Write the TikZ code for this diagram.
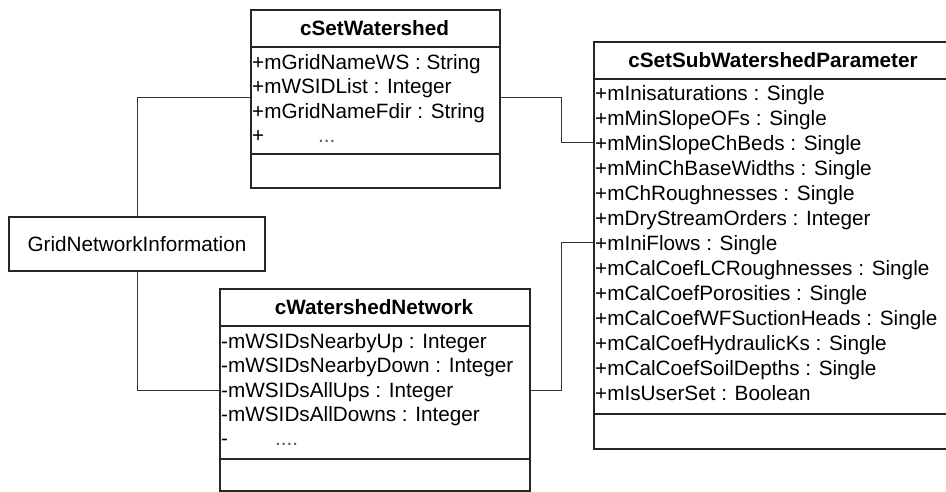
\documentclass[tikz,border=0pt]{standalone}
\usepackage{fontspec}
\setmainfont{Liberation Sans}
\newcommand\umlfs{\fontsize{20.8}{25}\selectfont}
\tikzset{
  box/.style={draw=black!85, line width=1.6bp, rectangle, inner sep=0pt, anchor=north west},
  sepline/.style={draw=black!85, line width=1.6bp},
  attr/.style={anchor=base west, inner sep=0pt, font=\umlfs},
  ctitle/.style={anchor=base, inner sep=0pt, font=\umlfs\bfseries},
  conn/.style={draw=black!80, line width=1bp},
}
\begin{document}
\begin{tikzpicture}[x=1bp, y=-1bp]
\useasboundingbox (0,0) rectangle (946,492);
\clip (0,0) rectangle (946,492);
\fill[white] (0,0) rectangle (946,492);

% ---- cSetWatershed
\node[box, minimum width=249bp, minimum height=178bp] (ws) at (250,9) {};
\draw[sepline] (ws.west |- 0,47) -- (ws.east |- 0,47);
\draw[sepline] (ws.west |- 0,154) -- (ws.east |- 0,154);
\node[ctitle] (wst) at (374.5,35.5) {cSetWatershed};
\node[attr] (ws1) at (252,69.5) {+mGridNameWS : String};
\node[attr] (ws2) at (252,93.8) {+mWSIDList : Integer};
\node[attr] (ws3) at (252,118.1) {+mGridNameFdir : String};
\node[attr] (ws4) at (252,142.5) {+\hspace{53.9bp}\textcolor{black!65}{...}};

% ---- cWatershedNetwork
\node[box, minimum width=310bp, minimum height=202bp] (wn) at (219,288) {};
\draw[sepline] (wn.west |- 0,326) -- (wn.east |- 0,326);
\draw[sepline] (wn.west |- 0,459) -- (wn.east |- 0,459);
\node[ctitle] (wnt) at (374,314.5) {cWatershedNetwork};
\node[attr] (wn1) at (221,348.5) {-mWSIDsNearbyUp : Integer};
\node[attr] (wn2) at (221,372.8) {-mWSIDsNearbyDown : Integer};
\node[attr] (wn3) at (221,397.1) {-mWSIDsAllUps : Integer};
\node[attr] (wn4) at (221,421.5) {-mWSIDsAllDowns : Integer};
\node[attr] (wn5) at (221,445.5) {-\hspace{47bp}\textcolor{black!65}{....}};

% ---- cSetSubWatershedParameter
\node[box, minimum width=360bp, minimum height=407bp] (sp) at (593,41) {};
\draw[sepline] (sp.west |- 0,79) -- (sp.east |- 0,79);
\draw[sepline] (sp.west |- 0,414) -- (sp.east |- 0,414);
\node[ctitle] (spt) at (773,67.5) {cSetSubWatershedParameter};
\node[attr] (sp1) at (595,100.5) {+mInisaturations : Single};
\node[attr] (sp2) at (595,125.5) {+mMinSlopeOFs : Single};
\node[attr] (sp3) at (595,150.5) {+mMinSlopeChBeds : Single};
\node[attr] (sp4) at (595,175.5) {+mMinChBaseWidths : Single};
\node[attr] (sp5) at (595,200.5) {+mChRoughnesses : Single};
\node[attr] (sp6) at (595,225.5) {+mDryStreamOrders : Integer};
\node[attr] (sp7) at (595,250.5) {+mIniFlows : Single};
\node[attr] (sp8) at (595,275.5) {+mCalCoefLCRoughnesses : Single};
\node[attr] (sp9) at (595,300.5) {+mCalCoefPorosities : Single};
\node[attr] (sp10) at (595,325.5) {+mCalCoefWFSuctionHeads : Single};
\node[attr] (sp11) at (595,350.5) {+mCalCoefHydraulicKs : Single};
\node[attr] (sp12) at (595,375.5) {+mCalCoefSoilDepths : Single};
\node[attr] (sp13) at (595,400.5) {+mIsUserSet : Boolean};

% ---- GridNetworkInformation
\node[draw=black!85, line width=1.4bp, rectangle, minimum width=256bp, minimum height=54bp, inner sep=0pt, font=\umlfs] (gni) at (137,244) {GridNetworkInformation};

% ---- connectors
\coordinate (j1) at (561,98);
\coordinate (j2) at (561,390);
\draw[conn] (ws.west |- 0,98) -| (gni.north);
\draw[conn] (gni.south) |- (wn.west |- 0,390);
\draw[conn] (ws.east |- j1) -- (j1) |- (sp.west |- 0,143);
\draw[conn] (wn.east |- j2) -- (j2) |- (sp.west |- 0,243);
\end{tikzpicture}
\end{document}
